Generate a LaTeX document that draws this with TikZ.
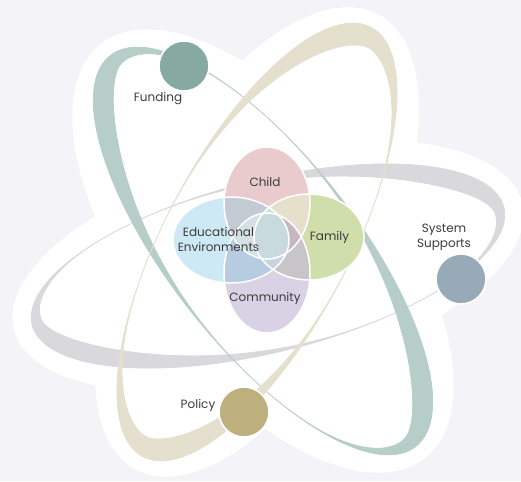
\documentclass[tikz,border=0pt]{standalone}
\usepackage{fontspec}
\setmainfont{Poppins}
\definecolor{bg}{HTML}{F3F3F8}
\definecolor{tealband}{HTML}{B7CEC8}
\definecolor{beigeband}{HTML}{E4E0CD}
\definecolor{grayband}{HTML}{D9D8DC}
\definecolor{fundc}{HTML}{86A9A1}
\definecolor{sysc}{HTML}{97AAB8}
\definecolor{polc}{HTML}{BDB07E}
\definecolor{childc}{HTML}{E9CACD}
\definecolor{educ}{HTML}{CDE9F3}
\definecolor{famc}{HTML}{CFDEAB}
\definecolor{comc}{HTML}{D9D1E4}
\definecolor{cxe}{HTML}{C2CBD4}
\definecolor{cxf}{HTML}{E5DFCB}
\definecolor{exc}{HTML}{B7CCE0}
\definecolor{fxc}{HTML}{C8C5C9}
\definecolor{cef}{HTML}{CFE0DF}
\definecolor{efc}{HTML}{C6D6E0}
\definecolor{ccbase}{HTML}{CFDDE3}
\definecolor{ccleft}{HTML}{D3E1E6}
\definecolor{midc}{HTML}{C9DADF}
\definecolor{mauve}{HTML}{C6B6BF}
\definecolor{txt}{HTML}{3C3C3C}
% plain rotated ellipse (white blob part)
\newcommand{\blobell}[5]{%
  \fill[white] plot[domain=0:360,samples=181]
    ({#1+#3*cos(\x)*cos(#5)-#4*sin(\x)*sin(#5)},{#2+#3*cos(\x)*sin(#5)+#4*sin(\x)*cos(#5)}) -- cycle;}
% crescent orbit: color, cx, cy, a, b, phi, W, t0
\newcommand{\crescent}[8]{%
  \begin{scope}[declare function={
      orbw(\t)=#7*abs(cos(\t-#8))*cos(\t-#8)*cos(\t-#8);
      orbs(\t)=sqrt((#5/#4*cos(\t))*(#5/#4*cos(\t))+sin(\t)*sin(\t));
      orba(\t)=#4-orbw(\t)*(#5/#4)/orbs(\t);
      orbb(\t)=#5-orbw(\t)/orbs(\t);}]
  \filldraw[fill=#1,draw=#1,line width=0.8,even odd rule]
    plot[domain=0:360,samples=361]
      ({#2+#4*cos(\x)*cos(#6)-#5*sin(\x)*sin(#6)},{#3+#4*cos(\x)*sin(#6)+#5*sin(\x)*cos(#6)}) -- cycle
    plot[domain=0:360,samples=361]
      ({#2+orba(\x)*cos(\x)*cos(#6)-orbb(\x)*sin(\x)*sin(#6)},{#3+orba(\x)*cos(\x)*sin(#6)+orbb(\x)*sin(\x)*cos(#6)}) -- cycle;
  \end{scope}}
\def\childE{(267,203) ellipse (43 and 56)}
\def\comE{(267,273) ellipse (43 and 60)}
\def\eduE{(231,240) ellipse (58 and 43)}
\def\famE{(309,237) ellipse (55 and 43)}
\begin{document}
\begin{tikzpicture}[x=1pt,y=-1pt,
  dot/.style={circle,minimum size=50,inner sep=0,draw=white,line width=1.6},
  lbl/.style={font=\fontsize{12}{15}\selectfont,text=txt,inner sep=0,align=center}]
\useasboundingbox (0,0) rectangle (521,481);
\fill[bg] (0,0) rectangle (521,481);
% white blob
\blobell{263}{251}{263}{128}{52}
\blobell{257}{242}{258}{122}{-62}
\blobell{268}{266}{262}{112}{-14}
% orbits
\crescent{grayband}{268}{266}{243}{86}{-14}{18}{148}
\crescent{tealband}{263}{251}{248}{94}{52}{20}{153}
\crescent{beigeband}{257}{242}{243}{92}{-62}{22}{167}
% venn
\fill[childc] \childE;
\fill[educ] \eduE;
\fill[famc] \famE;
\fill[comc] \comE;
\begin{scope}\clip \childE; \fill[cxe] \eduE; \fill[cxf] \famE; \end{scope}
\begin{scope}\clip \comE; \fill[exc] \eduE; \fill[fxc] \famE; \end{scope}
\begin{scope}\clip \childE; \clip \eduE; \fill[cef] \famE; \end{scope}
\begin{scope}\clip \comE; \clip \eduE; \fill[efc] \famE; \end{scope}
\begin{scope}\clip \childE; \fill[ccbase] \comE; \end{scope}
\begin{scope}\clip \childE; \clip \comE; \fill[mauve] \famE; \end{scope}
\begin{scope}\clip \childE; \clip \comE; \fill[ccleft] \eduE; \end{scope}
\begin{scope}\clip \childE; \clip \comE; \clip \eduE; \fill[midc] \famE; \end{scope}
\draw[white,line width=1.5] \childE \eduE \famE \comE;
% planets
\node[dot,fill=fundc] (funding) at (184,66) {};
\node[dot,fill=sysc] (system) at (461,279) {};
\node[dot,fill=polc] (policy) at (244,412) {};
% labels
\node[lbl,anchor=base] (fundlbl) at (158,102) {Funding};
\node[lbl] (syslbl) at (444,237) {System\\Supports};
\node[lbl,anchor=base] (pollbl) at (198,408) {Policy};
\node[lbl,anchor=base] (childlbl) at (265,186) {Child};
\node[lbl] (edulbl) at (218.5,239) {Educational\\Environments};
\node[lbl,anchor=base] (famlbl) at (329.5,240) {Family};
\node[lbl,anchor=base] (comlbl) at (265,301) {Community};
\end{tikzpicture}
\end{document}
